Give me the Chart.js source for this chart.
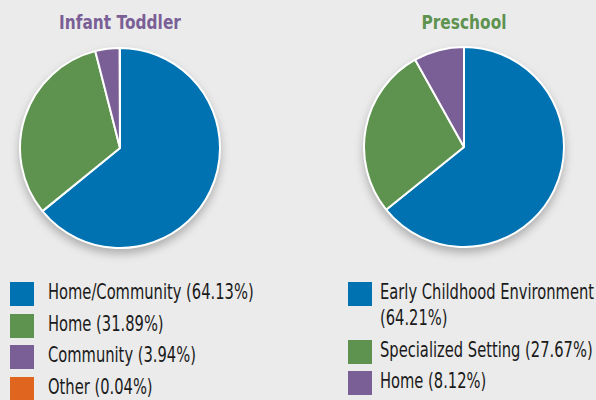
<!DOCTYPE html>
<html>
<head>
<meta charset="utf-8">
<script src="https://cdn.jsdelivr.net/npm/chart.js@4"></script>
<style>
  body { margin: 0; width: 596px; height: 400px; background: #ebebeb; overflow: hidden; position: relative;
         font-family: "DejaVu Sans", sans-serif; }
  .title { position: absolute; top: 10px; font-weight: bold; font-size: 20px; text-align: center; width: 240px;
           transform: scaleX(0.77); transform-origin: center; }
  .wrap { position: absolute; width: 202px; height: 202px; filter: drop-shadow(0 5px 4px rgba(0,0,0,0.25)); }
  .legend { position: absolute; font-size: 21px; color: #1a1a1a; line-height: 26px; }
  .item { position: relative; margin-bottom: 5.5px; }
  .sw { position: absolute; left: 0; top: 3px; width: 24px; height: 24px; }
  .txt { display: inline-block; transform: scaleX(0.70); transform-origin: left top; }
</style>
</head>
<body>
<div class="title" style="left:0; color:#7a5f96;">Infant Toddler</div>
<div class="title" style="left:344px; color:#5e924f;">Preschool</div>
<div class="wrap" style="left:19px; top:47px;"><canvas id="c1" width="202" height="202"></canvas></div>
<div class="wrap" style="left:363px; top:46px;"><canvas id="c2" width="202" height="202"></canvas></div>
<div class="legend" id="l1" style="left:10px; top:279px;"></div>
<div class="legend" id="l2" style="left:348px; top:279px;"></div>
<script>
const infantLabels = ['Home/Community', 'Home', 'Community', 'Other'];
const infantValues = [64.13, 31.89, 3.94, 0.04];
const infantColors = ['#0072b1', '#5e924f', '#7a5f96', '#e0661f'];

const preschoolLabels = ['Early Childhood Environment', 'Specialized Setting', 'Home'];
const preschoolValues = [64.21, 27.67, 8.12];
const preschoolColors = ['#0072b1', '#5e924f', '#7a5f96'];

function makePie(id, labels, values, colors) {
  return new Chart(document.getElementById(id), {
    type: 'pie',
    data: {
      labels: labels,
      datasets: [{ data: values, backgroundColor: colors, borderColor: '#ffffff', borderWidth: 2 }]
    },
    options: {
      responsive: false,
      animation: false,
      plugins: { legend: { display: false }, tooltip: { enabled: false } }
    }
  });
}

// html legend, text squeezed to look like a condensed face
function makeLegend(id, labels, values, colors, textWidth, gap) {
  const box = document.getElementById(id);
  labels.forEach((l, i) => {
    const d = document.createElement('div');
    d.className = 'item';
    d.innerHTML = '<span class="sw" style="background:' + colors[i] + '"></span>' +
      '<span class="txt" style="margin-left:' + gap + 'px;width:' + textWidth + 'px">' +
      l + ' (' + values[i].toFixed(2) + '%)</span>';
    box.appendChild(d);
    // transform doesn't shrink layout height, so fix height from line count
    const lines = Math.round(d.querySelector('.txt').offsetHeight / 26);
    d.style.height = (lines * 26) + 'px';
  });
}

makePie('c1', infantLabels, infantValues, infantColors);
makePie('c2', preschoolLabels, preschoolValues, preschoolColors);
makeLegend('l1', infantLabels, infantValues, infantColors, 400, 38);
makeLegend('l2', preschoolLabels, preschoolValues, preschoolColors, 325, 32);
</script>
</body>
</html>
